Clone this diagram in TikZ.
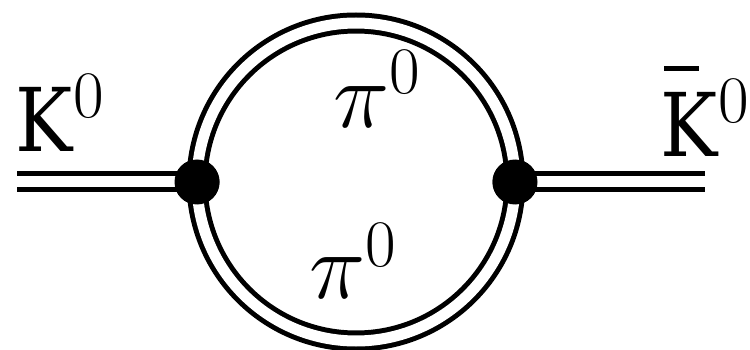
\RequirePackage{fix-cm}
\documentclass[tikz,border=0pt]{standalone}
\usepackage{fontspec}
\newfontfamily\djs[FakeStretch=0.87]{DejaVu Serif}
\newcommand\kay{{\djs\fontsize{88}{88}\selectfont K}}
\tikzset{
  prop/.style={draw=black, line width=5pt, double=white, double distance=11pt},
  vtx/.style={circle, fill=black, inner sep=0pt, minimum size=45pt},
  lbl/.style={anchor=base west, inner sep=0pt, font=\fontsize{95}{95}\selectfont},
}
\begin{document}
\begin{tikzpicture}[x=1pt, y=-1pt]
\useasboundingbox (0,0) rectangle (750,350);
\coordinate (inL) at (17,182);
\coordinate (outR) at (705,182);
\coordinate (c) at (356,182);
\node[vtx] (vL) at (197,182) {};
\node[vtx] (vR) at (515,182) {};
\draw[prop] (c) circle[radius=159pt];
\draw[prop] (inL) -- (vL.center);
\draw[prop] (vR.center) -- (outR);
\node[vtx] at (vL) {};
\node[vtx] at (vR) {};
\node[lbl] (kL) at (15,152) {\kay\kern1pt$^0$};
\node[lbl] (piT) at (333,128) {$\pi^0$};
\node[lbl] (piB) at (309,298) {$\pi^{\raisebox{-3pt}{$\scriptstyle 0$}}$};
\node[lbl] (kR) at (660,157) {\rlap{\hspace{4pt}\raisebox{86pt}{\rule{35pt}{5pt}}}\kay\kern1pt$^0$};
\end{tikzpicture}
\end{document}
